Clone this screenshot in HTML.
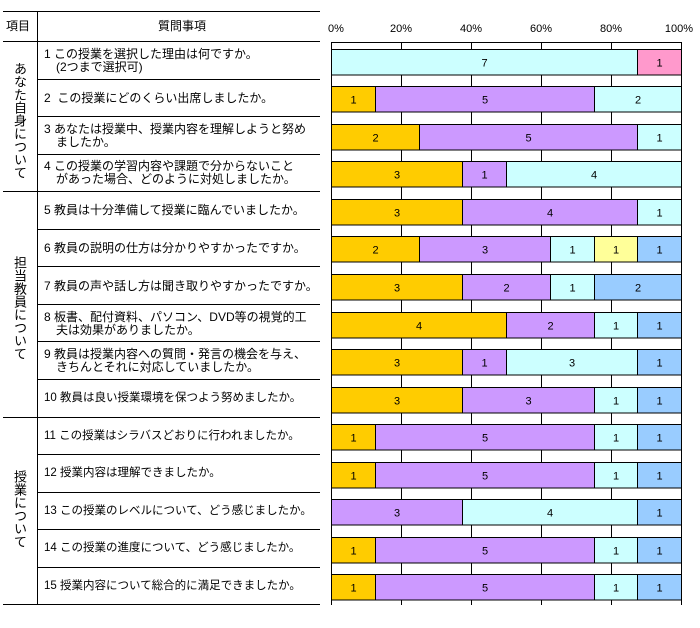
<!DOCTYPE html>
<html><head><meta charset="utf-8"><style>
body{margin:0;background:#fff;width:700px;height:628px;overflow:hidden;position:relative;font-family:"Liberation Sans","Noto Sans CJK JP",sans-serif;}
.t{position:absolute;font-size:12px;color:#000;line-height:13px;white-space:nowrap;}
.hl{position:absolute;height:1px;background:#000;}
.vt{position:absolute;writing-mode:vertical-rl;font-size:13px;letter-spacing:0px;}
</style></head><body>
<div class="hl" style="left:3px;top:11px;width:317px"></div>
<div class="hl" style="left:3px;top:41px;width:317px"></div>
<div style="position:absolute;left:37px;top:11px;width:1px;height:594px;background:#000"></div>
<div class="t" style="left:6px;top:20px">項目</div>
<div class="t" style="left:158px;top:20px">質問事項</div>
<div class="vt" style="left:10px;top:62px">あなた自身について</div>
<div class="vt" style="left:10px;top:256px">担当教員について</div>
<div class="vt" style="left:10px;top:470px">授業について</div>
<div id="rows"></div>
<svg id="chart" width="700" height="628" style="position:absolute;left:0;top:0"></svg>
<script>
const questions=["1 この授業を選択した理由は何ですか。\n　(2つまで選択可)","2  この授業にどのくらい出席しましたか。","3 あなたは授業中、授業内容を理解しようと努め\n　ましたか。","4 この授業の学習内容や課題で分からないこと\n　があった場合、どのように対処しましたか。","5 教員は十分準備して授業に臨んでいましたか。","6 教員の説明の仕方は分かりやすかったですか。","7 教員の声や話し方は聞き取りやすかったですか。","8 板書、配付資料、パソコン、DVD等の視覚的工\n　夫は効果がありましたか。","9 教員は授業内容への質問・発言の機会を与え、\n　きちんとそれに対応していましたか。","10 教員は良い授業環境を保つよう努めましたか。","11 この授業はシラバスどおりに行われましたか。","12 授業内容は理解できましたか。","13 この授業のレベルについて、どう感じましたか。","14 この授業の進度について、どう感じましたか。","15 授業内容について総合的に満足できましたか。"];
const sOrange=[0,1,2,3,3,2,3,4,3,3,1,1,0,1,1];
const sPurple=[0,5,5,1,4,3,2,2,1,3,5,5,3,5,5];
const sCyan=[7,2,1,4,1,1,1,1,3,1,1,1,4,1,1];
const sYellow=[0,0,0,0,0,1,0,0,0,0,0,0,0,0,0];
const sBlue=[0,0,0,0,0,1,2,1,1,1,1,1,1,1,1];
const sPink=[1,0,0,0,0,0,0,0,0,0,0,0,0,0,0];
const ticks=["0%","20%","40%","60%","80%","100%"];
const series=[[sOrange,"#FFCC00","orange"],[sPurple,"#CC99FF","purple"],[sCyan,"#CCFFFF","cyan"],[sYellow,"#FFFF99","yellow"],[sBlue,"#99CCFF","blue"],[sPink,"#FF99CC","pink"]];
const X0=331,X1=681,Y0=42,YB=605,pitch=37.55,bh=25.5;
const xs=p=>X0+(X1-X0)*p;
const rowTop=i=>41+i*pitch;
const NS="http://www.w3.org/2000/svg";
const svg=document.getElementById('chart');
function el(tag,a){const e=document.createElementNS(NS,tag);for(const k in a)e.setAttribute(k,a[k]);svg.appendChild(e);return e;}
const rows=document.getElementById('rows');
questions.forEach((q,i)=>{
  const y=rowTop(i);
  const lines=q.split("\n");
  const d=document.createElement('div');d.className='t';
  
  
  d.style.left='44px';d.style.top=(y+pitch/2-(lines.length*13)/2+1)+'px';
  d.style.fontSize=i>=9?'11.5px':'12px';
  d.textContent=lines.join("\n");d.style.whiteSpace='pre';
  rows.appendChild(d);
  const l=document.createElement('div');l.className='hl';
  
  
  const yy=rowTop(i+1);const grp=(i==3||i==9||i==14);
  l.style.left=(grp?3:37)+'px';l.style.width=(grp?317:283)+'px';l.style.top=Math.round(yy)+'px';
  rows.appendChild(l);
});
ticks.forEach((t,k)=>{const x=xs(k/5);
  const tx=el('text',{x:x,y:32,'font-size':11,'text-anchor':k==0?'start':(k==5?'end':'middle'),'font-family':'Liberation Sans, sans-serif'});
  if(k==0)tx.setAttribute('x',x-3);if(k==5)tx.setAttribute('x',x+12);
  tx.textContent=t;
  
  
  if(k>0&&k<5){const g=el('line',{x1:Math.round(x)+.5,x2:Math.round(x)+.5,y1:Y0,y2:YB,stroke:'#000','stroke-width':1});
  
  }
});
const ax=el('path',{d:`M${X0+.5} ${YB}V${Y0+.5}H${X1+.5}V${YB}`,fill:'none',stroke:'#000'});


questions.forEach((q,i)=>{
  let tot=0;series.forEach(s=>tot+=s[0][i]);
  let cum=0;const y=Math.round(48.7+i*pitch)+.5;
  series.forEach(s=>{const v=s[0][i];if(!v)return;
    const xa=Math.round(xs(cum/tot))+.5,xb=Math.round(xs((cum+v)/tot))+.5;
    const r=el('rect',{x:xa,y:y,width:xb-xa,height:bh,fill:s[1],stroke:'#000','stroke-width':1});
    
    
    const t=el('text',{x:(xa+xb)/2,y:y+bh/2+4,'font-size':11,'text-anchor':'middle','font-family':'Liberation Sans, sans-serif'});
    t.textContent=v;
    
    
    cum+=v;});
});
</script>
</body></html>
